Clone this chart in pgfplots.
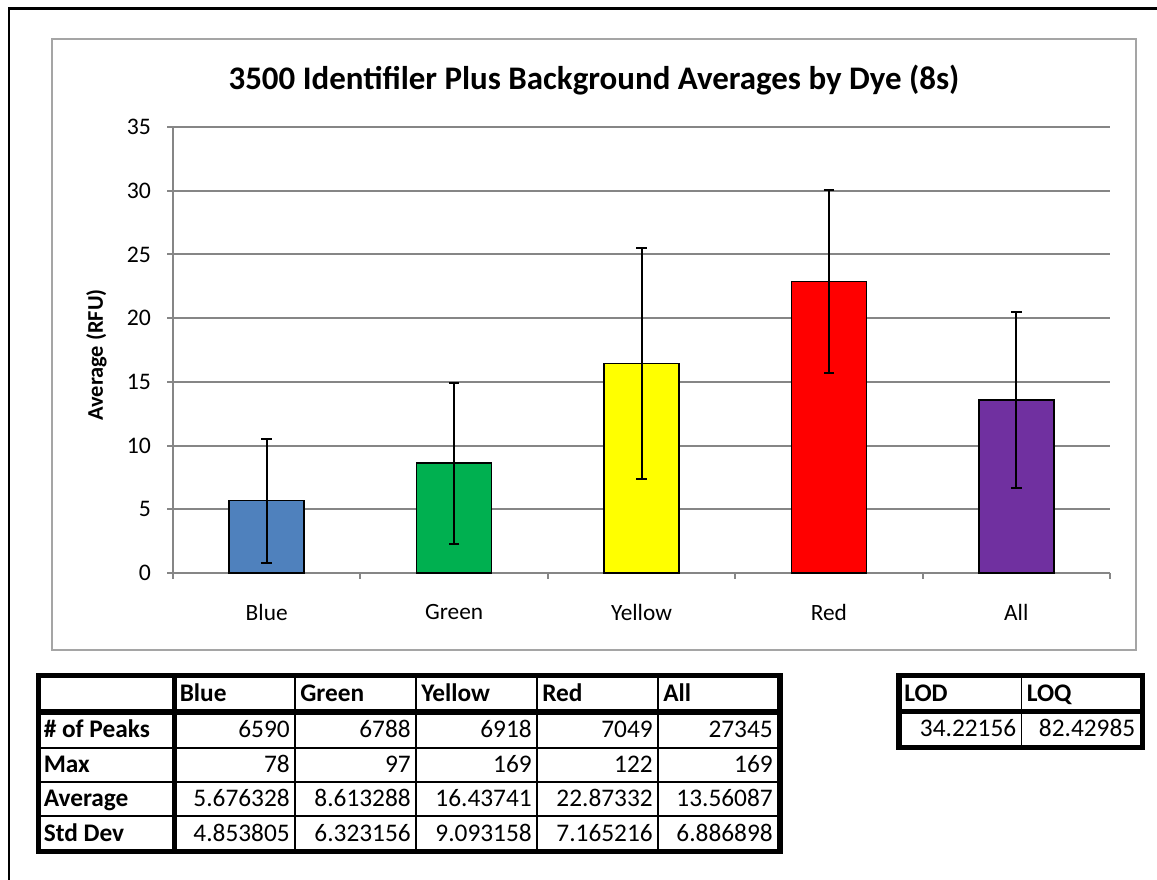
\documentclass[border=0pt]{standalone}
\usepackage{fontspec}
\setmainfont{Carlito}
\usepackage{pgfplots}
\pgfplotsset{compat=1.18}
\definecolor{bblue}{RGB}{79,129,189}
\definecolor{bgreen}{RGB}{0,176,80}
\definecolor{byellow}{RGB}{255,255,0}
\definecolor{bred}{RGB}{255,0,0}
\definecolor{bpurple}{RGB}{112,48,160}
\definecolor{gridgray}{RGB}{134,134,134}
\definecolor{framegray}{RGB}{165,165,165}
\newcommand{\tabfont}{\fontsize{19}{22}\selectfont}
% header cell: left x, row centre y, text
\newcommand{\hc}[3]{\node[anchor=base west,inner sep=0pt] at (#1+5,#2+8) {\tabfont\bfseries #3};}
% number cell: right x, row centre y, text
\newcommand{\nc}[3]{\node[anchor=base east,inner sep=0pt] at (#1-5,#2+7.5) {\tabfont #3};}
\begin{document}
\begin{tikzpicture}
\begin{scope}[x=0.75pt,y=-0.75pt,yshift=660pt]
\useasboundingbox (0,0) rectangle (1157,880);
\fill[white] (0,0) rectangle (1157,880);
\draw[black,line width=1.9pt] (9,880) -- (9,8.5) -- (1157,8.5);
\draw[framegray,line width=1.5pt] (52,39.5) rectangle (1135.5,650);
\end{scope}

\begin{axis}[
  at={(129.75pt,230.25pt)}, anchor=south west,
  width=702.75pt, height=334.5pt, scale only axis,
  xmin=-0.5, xmax=4.5, ymin=0, ymax=35,
  axis x line*=bottom, axis y line*=left,
  x axis line style={-,draw=gridgray,line width=2.2pt},
  y axis line style={-,draw=gridgray,line width=1.5pt},
  ytick={0,5,...,35},
  ymajorgrids, grid style={gridgray,line width=1.5pt},
  xtick={0,1,2,3,4}, xticklabels={Blue,Green,Yellow,Red,All},
  minor xtick={-0.5,0.5,1.5,2.5,3.5,4.5},
  tick align=outside,
  major tick length=4.5pt, minor tick length=4.5pt,
  x tick style={gridgray,line width=1.5pt},
  major x tick style={draw=none},
  y tick style={gridgray,line width=1.5pt},
  /pgf/number format/assume math mode=true,
  yticklabel style={font=\fontsize{17.8}{21}\selectfont, xshift=-8.5pt},
  xticklabel style={font=\fontsize{17.5}{21}\selectfont, yshift=-15.5pt},
  clip=false,
]
\pgfplotsset{every axis plot/.append style={ybar, bar width=0.4, bar shift=0pt, draw=black, line width=1.1pt,
  error bars/y dir=both, error bars/y explicit,
  error bars/error bar style={black,line width=1.5pt},
  error bars/error mark options={rotate=90,mark size=4pt,line width=1.5pt,black}}}
\addplot[fill=bblue] coordinates {(0,5.676328) +- (0,4.853805)};
\addplot[fill=bgreen] coordinates {(1,8.613288) +- (0,6.323156)};
\addplot[fill=byellow] coordinates {(2,16.43741) +- (0,9.093158)};
\addplot[fill=bred] coordinates {(3,22.87332) +- (0,7.165216)};
\addplot[fill=bpurple] coordinates {(4,13.56087) +- (0,6.886898)};
\end{axis}

\begin{scope}[x=0.75pt,y=-0.75pt,yshift=660pt]
\node at (594,80) {\fontsize{24.7}{29}\selectfont\bfseries 3500 Identifiler Plus Background Averages by Dye (8s)};
\node[rotate=90] at (96.5,355) {\fontsize{16.8}{20}\selectfont\bfseries Average (RFU)};
% main table lines
\foreach \yy in {748,782,816} \draw[black,line width=1.3pt] (38.5,\yy) -- (780,\yy);
\foreach \xx in {295,416,537,658} \draw[black,line width=1.3pt] (\xx,675.5) -- (\xx,851.5);
\draw[black,line width=3.8pt] (38.5,712) -- (780,712);
\draw[black,line width=3.8pt] (174.5,675.5) -- (174.5,851.5);
\draw[black,line width=3.8pt] (38.5,675.5) rectangle (780,851.5);
% header row
\hc{174.5}{694}{Blue}
\hc{295}{694}{Green}
\hc{416}{694}{Yellow}
\hc{537}{694}{Red}
\hc{658}{694}{All}
% row labels
\hc{38.5}{730}{\# of Peaks}
\hc{38.5}{765}{Max}
\hc{38.5}{799}{Average}
\hc{38.5}{834}{Std Dev}
% values
\nc{295}{730}{6590}\nc{416}{730}{6788}\nc{537}{730}{6918}\nc{658}{730}{7049}\nc{778}{730}{27345}
\nc{295}{765}{78}\nc{416}{765}{97}\nc{537}{765}{169}\nc{658}{765}{122}\nc{778}{765}{169}
\nc{295}{799}{5.676328}\nc{416}{799}{8.613288}\nc{537}{799}{16.43741}\nc{658}{799}{22.87332}\nc{778}{799}{13.56087}
\nc{295}{834}{4.853805}\nc{416}{834}{6.323156}\nc{537}{834}{9.093158}\nc{658}{834}{7.165216}\nc{778}{834}{6.886898}
% LOD table
\draw[black,line width=1.3pt] (1021.5,675.5) -- (1021.5,747.5);
\draw[black,line width=3.8pt] (899,711.5) -- (1142.5,711.5);
\draw[black,line width=3.8pt] (899,675.5) rectangle (1142.5,747.5);
\hc{899}{694}{LOD}
\hc{1021.5}{694}{LOQ}
\nc{1021.5}{729.5}{34.22156}
\nc{1140.5}{729.5}{82.42985}
\end{scope}
\end{tikzpicture}
\end{document}
